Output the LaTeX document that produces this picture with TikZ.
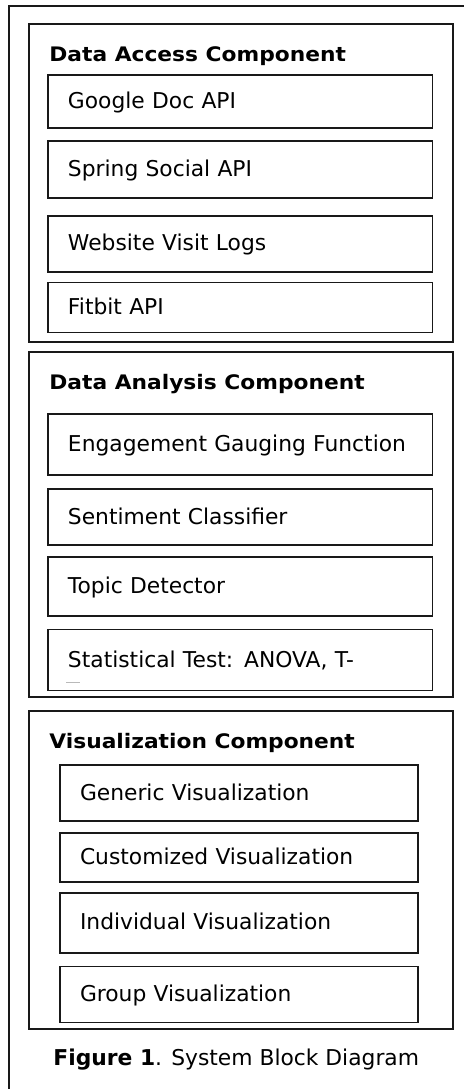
\documentclass[tikz,border=0pt]{standalone}
\usepackage{fontspec}
\setmainfont{DejaVu Sans}
\newfontfamily\titlefont{DejaVu Sans Bold}[FakeStretch=1.088]
\usetikzlibrary{positioning}
\definecolor{LineBlack}{RGB}{25, 25, 25}
\tikzset{
  frame/.style={draw=LineBlack, line width=1pt},
  compbox/.style={
    rectangle, draw=LineBlack, line width=0.9pt,
    minimum width=212pt, minimum height=#1, inner sep=0pt
  },
  comptitle/.style={font=\titlefont, anchor=base west, inner sep=0pt},
  itembox/.style={
    rectangle, draw=LineBlack, line width=0.9pt, align=left,
    text width=172.25pt, inner xsep=10pt, inner ysep=2pt,
    text height=0.72em, text depth=0pt, minimum height=#1
  },
  itembox/.default=28pt,
  visbox/.style={itembox=#1, text width=159pt},
  visbox/.default=28pt,
}

\begin{document}
\begin{tikzpicture}[x=0.5pt, y=-0.5pt, font=\fontsize{10.9}{13}\selectfont]
\useasboundingbox (0,0) rectangle (464,1089);

% outer frame (cut by the page)
\draw[frame] (9,6) rectangle (490,1110);

% Data access
\node[compbox=159pt] (access) at (241,183) {};
\node[comptitle] (accesstitle) at (49,61) {Data Access Component};
\node[itembox=26.5pt] (gdoc) at (240.25,101.5) {Google Doc API};
\node[itembox=28.5pt, below=5.5pt of gdoc] (social) {Spring Social API};
\node[itembox=28pt, below=8pt of social] (visits) {Website Visit Logs};
\node[itembox=25pt, below=4.5pt of visits] (fitbit) {Fitbit API};

% Data analysis
\node[compbox=172.5pt] (analysis) at (241,524.5) {};
\node[comptitle] (analysistitle) at (49,389) {Data Analysis Component};
\node[itembox=30.5pt] (engage) at (240.25,444.5) {Engagement Gauging Function};
\node[itembox=28pt, below=6pt of engage] (senti) {Sentiment Classifier};
\node[itembox=29.5pt, below=5pt of senti] (topic) {Topic Detector};
\node[itembox=30.5pt, below=6pt of topic] (stat) {Statistical Test: ANOVA, T-};
\draw[gray!55, line width=0.5pt] ([xshift=9.5pt, yshift=4.5pt]stat.south west) -- ([xshift=16.5pt, yshift=4.5pt]stat.south west);

% Visualization
\node[compbox=159pt] (vis) at (241,870) {};
\node[comptitle] (vistitle) at (49,748) {Visualization Component};
\node[visbox=28pt] (generic) at (239,793) {Generic Visualization};
\node[visbox=24.5pt, below=5pt of generic] (custom) {Customized Visualization};
\node[visbox=30pt, below=4.5pt of custom] (indiv) {Individual Visualization};
\node[visbox=28pt, below=6pt of indiv] (groupvis) {Group Visualization};

% caption
\node[anchor=base west, inner sep=0pt] (caption) at (53,1065) {\textbf{Figure 1}. System Block Diagram};
\end{tikzpicture}
\end{document}
